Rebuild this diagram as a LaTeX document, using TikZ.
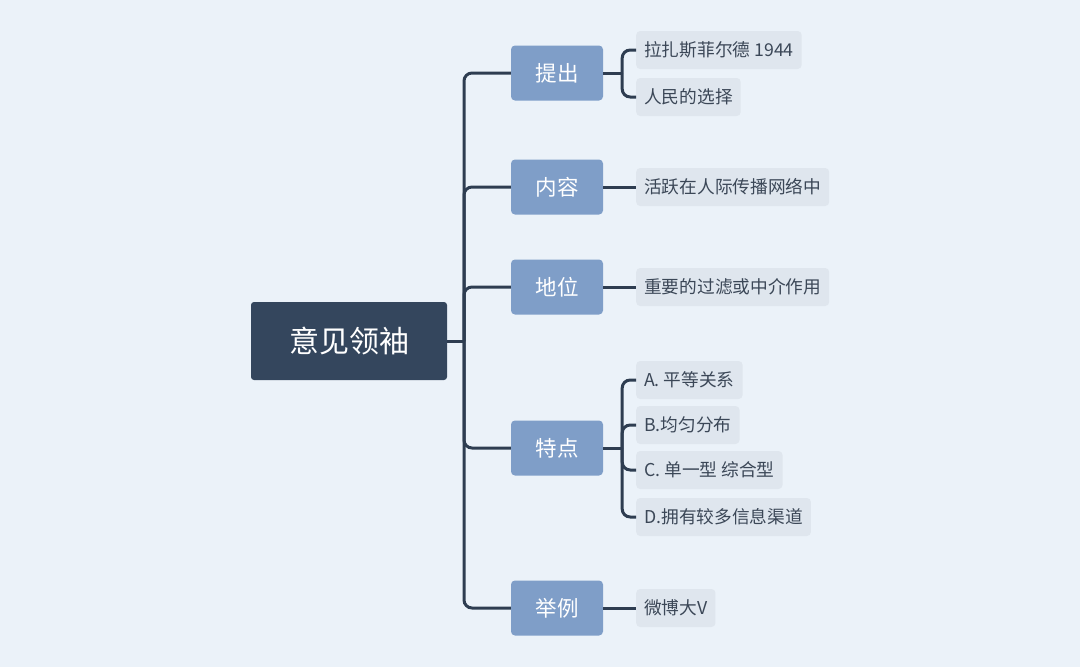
\documentclass[tikz,border=0pt]{standalone}
\usepackage{fontspec}
\newfontfamily\cjk{Noto Sans CJK SC}
\usepackage{tikz}
\usetikzlibrary{positioning}
\definecolor{bg_blue}{HTML}{EBF2F9}
\definecolor{root_blue}{HTML}{34465D}
\definecolor{branch_blue}{HTML}{7F9EC8}
\definecolor{leaf_grey}{HTML}{DFE6EE}
\definecolor{leaf_text}{HTML}{3B4757}
\definecolor{line_blue}{HTML}{2E3D51}
\tikzstyle{root_node} = [
    rounded corners=3pt,
    white,
    font=\cjk\fontsize{30}{33}\selectfont,
    fill=root_blue,
    align=center,
    minimum width=196pt,
    minimum height=78pt
]
\tikzstyle{branch_node} = [
    rounded corners=4pt,
    white,
    font=\cjk\fontsize{21.5}{24}\selectfont,
    fill=branch_blue,
    align=center,
    minimum width=92pt,
    minimum height=55pt
]
\tikzstyle{leaf_node} = [
    rounded corners=4pt,
    text=leaf_text,
    font=\cjk\fontsize{17.7}{20}\selectfont,
    fill=leaf_grey,
    anchor=west,
    inner xsep=8pt, % text starts 8px in
    minimum height=38pt
]
\tikzstyle{link} = [
    draw=line_blue,
    line width=3pt,
    rounded corners=8pt
]

\begin{document}
\begin{tikzpicture}[x=1pt, y=-1pt]
\fill[bg_blue] (0,0) rectangle (1080,667);

% root and trunk
\node [root_node] (root) at (349,341) {意见领袖};
\coordinate (trunk) at (464,341);

% first level
\node [branch_node] (tichu) at (557,73) {提出};
\node [branch_node] (neirong) at (557,187) {内容};
\node [branch_node] (diwei) at (557,287) {地位};
\node [branch_node] (tedian) at (557,448) {特点};
\node [branch_node] (juli) at (557,608) {举例};

% second level
\node [leaf_node] (lazasi) at (636,50) {拉扎斯菲尔德 1944};
\node [leaf_node] (renmin) at (636,97) {人民的选择};
\node [leaf_node] (huoyue) at (636,187) {活跃在人际传播网络中};
\node [leaf_node] (guolv) at (636,287) {重要的过滤或中介作用};
\node [leaf_node] (pingdeng) at (636,380) {A. 平等关系};
\node [leaf_node] (junyun) at (636,425) {B.均匀分布};
\node [leaf_node] (danyi) at (636,470) {C. 单一型 综合型};
\node [leaf_node] (yongyou) at (636,517) {D.拥有较多信息渠道};
\node [leaf_node] (weibo) at (636,608) {微博大V};

% connectors
\draw [link] (root.east) -- (trunk);
\draw [link] (trunk) |- (tichu.west);
\draw [link] (trunk) |- (neirong.west);
\draw [link] (trunk) |- (diwei.west);
\draw [link] (trunk) |- (tedian.west);
\draw [link] (trunk) |- (juli.west);

\coordinate (tichu_fork) at ([xshift=19pt]tichu.east);
\draw [link] (tichu.east) -- (tichu_fork);
\draw [link] (tichu_fork) |- (lazasi.west);
\draw [link] (tichu_fork) |- (renmin.west);

\draw [link] (neirong.east) -- (huoyue.west);
\draw [link] (diwei.east) -- (guolv.west);

\coordinate (tedian_fork) at ([xshift=19pt]tedian.east);
\draw [link] (tedian.east) -- (tedian_fork);
\draw [link] (tedian_fork) |- (pingdeng.west);
\draw [link] (tedian_fork) |- (junyun.west);
\draw [link] (tedian_fork) |- (danyi.west);
\draw [link] (tedian_fork) |- (yongyou.west);

\draw [link] (juli.east) -- (weibo.west);
\end{tikzpicture}
\end{document}
